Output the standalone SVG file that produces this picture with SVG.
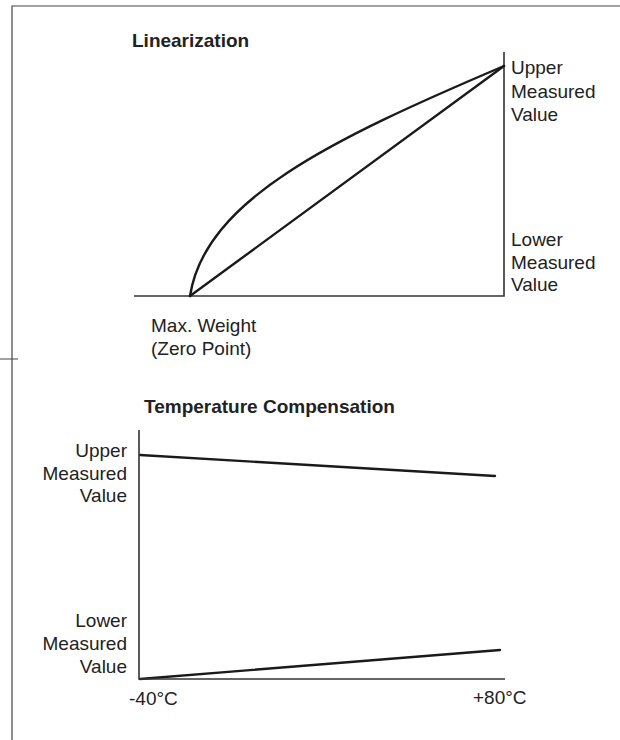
<svg xmlns="http://www.w3.org/2000/svg" width="620" height="740" viewBox="0 0 620 740">
  <style>
    .lbl { font-family: "Liberation Sans", Arial, sans-serif; font-size: 19px; fill: #222; }
    .ttl { font-family: "Liberation Sans", Arial, sans-serif; font-size: 19px; font-weight: bold; fill: #222; }
    .r { text-anchor: end; }
    .frame { stroke: #444; stroke-width: 1.2; fill: none; }
    .axis { stroke: #333; stroke-width: 1.6; fill: none; }
    .data { stroke: #1a1a1a; stroke-width: 2.4; fill: none; stroke-linecap: round; }
  </style>
  <rect width="620" height="740" fill="#fff"/>
  <g id="frame">
    <path class="frame" d="M620,6 H12 V740 M0,359 H18"/>
  </g>
  <g id="linearization-chart">
    <text class="ttl" x="132" y="47">Linearization</text>
    <g id="lin-axes">
      <path class="axis" d="M134,296 H504 V52"/>
    </g>
    <g id="lin-upper-label">
      <text class="lbl" x="511" y="74">Upper</text>
      <text class="lbl" x="511" y="98">Measured</text>
      <text class="lbl" x="511" y="121">Value</text>
    </g>
    <g id="lin-lower-label">
      <text class="lbl" x="511" y="246">Lower</text>
      <text class="lbl" x="511" y="269">Measured</text>
      <text class="lbl" x="511" y="291">Value</text>
    </g>
    <g id="lin-zero-label">
      <text class="lbl" x="151" y="332">Max. Weight</text>
      <text class="lbl" x="151" y="355">(Zero Point)</text>
    </g>
  </g>
  <g id="connectors">
    <path class="data" d="M190,296 C205,200 330,140 504,66"/>
    <path class="data" d="M190,296 L504,66"/>
    <path class="data" d="M140,455 L495,476"/>
    <path class="data" d="M140,679 L500,650"/>
  </g>
  <g id="temperature-chart">
    <text class="ttl" x="144" y="413">Temperature Compensation</text>
    <g id="temp-axes">
      <path class="axis" d="M139,430 V679 H505"/>
    </g>
    <g id="temp-upper-label">
      <text class="lbl r" x="127" y="457">Upper</text>
      <text class="lbl r" x="127" y="480">Measured</text>
      <text class="lbl r" x="127" y="502">Value</text>
    </g>
    <g id="temp-lower-label">
      <text class="lbl r" x="127" y="627">Lower</text>
      <text class="lbl r" x="127" y="650">Measured</text>
      <text class="lbl r" x="127" y="673">Value</text>
    </g>
    <g id="temp-x-labels">
      <text class="lbl" x="129" y="705">-40°C</text>
      <text class="lbl" x="473" y="704">+80°C</text>
    </g>
  </g>
</svg>
